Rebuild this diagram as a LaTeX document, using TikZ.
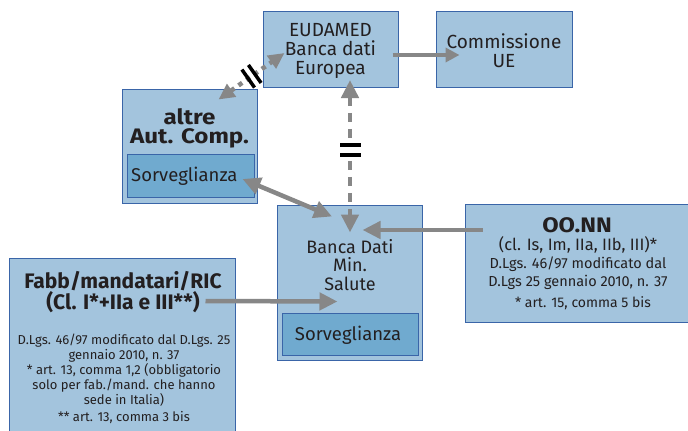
\documentclass[tikz,border=0pt]{standalone}
\usepackage{fontspec}
\setmainfont{Fira Sans}
\usetikzlibrary{arrows.meta,calc,decorations.markings}
\definecolor{boxfill}{HTML}{A3C4DD}
\definecolor{innerfill}{HTML}{70AACF}
\definecolor{boxline}{HTML}{3A65A8}
\definecolor{arrgray}{HTML}{878787}
\definecolor{txt}{HTML}{231F20}
\tikzset{
  box/.style={draw=boxline, fill=boxfill, line width=1pt, inner sep=0pt},
  inbox/.style={draw=boxline, fill=innerfill, line width=1pt, inner sep=0pt},
  lbl/.style={text=txt, align=center, inner sep=0pt},
  conn/.style={draw=arrgray, line width=4.5pt, -{Triangle[length=18pt,width=17pt]}},
  conn2/.style={draw=arrgray, line width=4.5pt, {Triangle[length=18pt,width=17pt]}-{Triangle[length=18pt,width=17pt]}},
  nomark/.style={postaction={decorate, decoration={markings, mark=at position 0.5 with {
     \draw[black, solid, line width=3.5pt, arrows=-] (-4,-11)--(-4,11) (4,-11)--(4,11);}}}}
}
\begin{document}
\begin{tikzpicture}[x=1pt,y=-1pt]
\useasboundingbox (0,0) rectangle (688,431);
\fill[white] (0,0) rectangle (688,431);
% boxes
\node[box, minimum width=135pt, minimum height=76pt] (eud) at (330.5,49.5) {};
\node[box, minimum width=136pt, minimum height=76pt] (com) at (504,49.5) {};
\node[box, minimum width=135pt, minimum height=114pt] (altre) at (189.5,146) {};
\node[inbox, minimum width=127pt, minimum height=43pt] (altsorv) at (190.5,175.5) {};
\node[box, minimum width=145pt, minimum height=155pt] (bds) at (349.5,282.5) {};
\node[inbox, minimum width=136pt, minimum height=42pt] (bdsorv) at (350,334) {};
\node[box, minimum width=228pt, minimum height=118pt] (oonn) at (579,263) {};
\node[box, minimum width=226pt, minimum height=180pt] (fabb) at (122,348) {};
% texts
\node[lbl, font=\fontsize{19}{19}\selectfont] (eudt) at (330.5,51) {EUDAMED\\Banca dati\\Europea};
\node[lbl, font=\fontsize{19}{19}\selectfont] (comt) at (504,51) {Commissione\\UE};
\node[lbl, font=\bfseries\fontsize{21}{19}\selectfont\addfontfeature{FakeStretch=1.15}] (altt) at (189.5,128) {altre\\Aut. Comp.};
\node[lbl, font=\fontsize{18.5}{19}\selectfont, anchor=west] (altst) at (131,176) {Sorveglianza};
\node[lbl, font=\fontsize{18}{18.5}\selectfont] (bdst) at (350,265) {Banca Dati\\Min.\\Salute};
\node[lbl, font=\fontsize{18.5}{19}\selectfont] (bdsst) at (348,335) {Sorveglianza};
\node[lbl, font=\bfseries\fontsize{21}{21}\selectfont\addfontfeature{FakeStretch=1.13}] (oot) at (577,225) {OO.NN};
\node[lbl, font=\fontsize{16.5}{18}\selectfont] (oocl) at (578,245) {(cl. Is, Im, IIa, IIb, III)*};
\node[lbl, font=\fontsize{14.5}{18}\selectfont] (oolg) at (578,273) {D.Lgs. 46/97 modificato dal\\D.Lgs 25 gennaio 2010, n. 37};
\node[lbl, font=\fontsize{14}{15}\selectfont] (ooart) at (583,303) {* art. 15, comma 5 bis};
\node[lbl, font=\bfseries\fontsize{21}{18}\selectfont] (fabbt) at (123,292) {Fabb/mandatari/RIC\\(Cl. I*+IIa e III**)};
\node[lbl, font=\fontsize{13}{15}\selectfont] (fabblg) at (124,370) {D.Lgs. 46/97 modificato dal D.Lgs. 25\\gennaio 2010, n. 37\\* art. 13, comma 1,2 (obbligatorio\\solo per fab./mand. che hanno\\sede in Italia)};
\node[lbl, font=\fontsize{13}{15}\selectfont] (fabbart) at (124,418) {** art. 13, comma 3 bis};
% connectors
\draw[conn, -{Triangle[length=14pt,width=14pt]}] ($(eud.east)+(-6,5.5)$) -- ($(com.west)+(24,5.5)$);
\draw[conn2, {Triangle[length=16pt,width=15pt]}-{Triangle[length=16pt,width=15pt]}, dash pattern=on 4.5pt off 5pt, nomark] ($(altre.north east)+(-39,11)$) -- ($(eud.west)+(22,3.5)$);
\draw[conn2, dash pattern=on 9pt off 7pt] ($(eud.south)+(19.5,-8)$) -- ($(bds.north)+(0.5,28)$);
\fill[white] ($(eud.south)+(14,57)$) rectangle ++(11,10);
\draw[black, line width=3.5pt] ($(eud.south)+(9.5,57)$) -- ++(21,0) ($(eud.south)+(9.5,67)$) -- ++(21,0);
\draw[conn2] ($(altsorv.east)+(-12,3.5)$) -- ($(bds.north)+(-17.5,12)$);
\draw[conn] ($(oonn.west)+(18,-33)$) -- ($(bds.east)+(-60,-52.5)$);
\draw[conn] ($(fabb.east)+(-30,-47)$) -- ($(bds.west)+(61,19)$);
\end{tikzpicture}
\end{document}
